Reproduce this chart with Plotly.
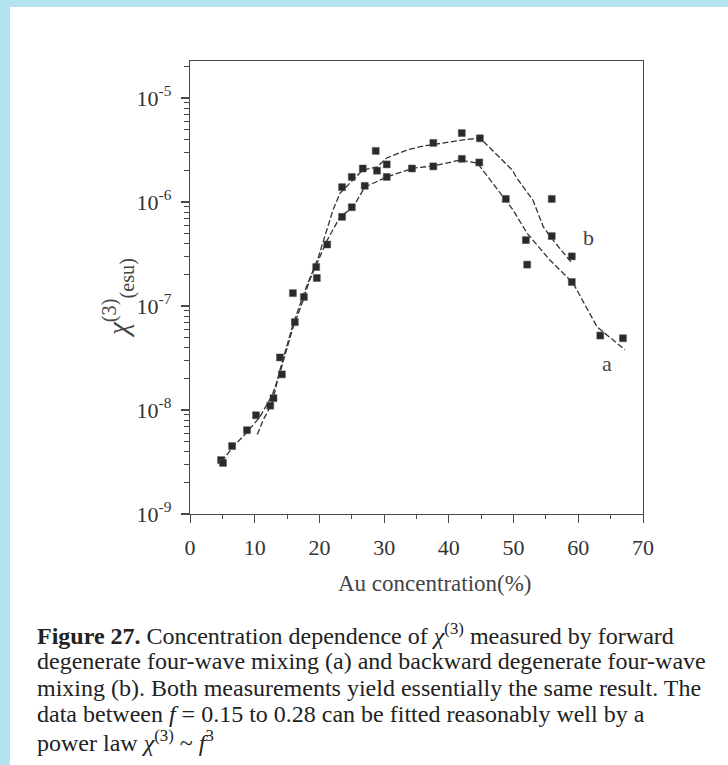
import plotly.graph_objects as go

# ---------------- data ----------------
# measured points, series a (forward DFWM) and b (backward DFWM)
a_x = [4.8, 6.5, 8.8, 10.2, 12.4, 14.2, 16.2, 17.6, 19.6, 21.2, 23.5, 25.0, 27.0,
       28.9, 30.4, 34.3, 37.6, 42.0, 44.7, 48.8, 51.9, 59.0, 63.4, 66.9]
a_y = [3.3e-9, 4.5e-9, 6.4e-9, 8.9e-9, 1.1e-8, 2.2e-8, 7.0e-8, 1.22e-7, 1.86e-7,
       3.9e-7, 7.2e-7, 8.9e-7, 1.43e-6, 2.0e-6, 1.74e-6, 2.1e-6, 2.2e-6, 2.6e-6,
       2.4e-6, 1.07e-6, 4.3e-7, 1.7e-7, 5.2e-8, 4.9e-8]

b_x = [5.1, 12.9, 13.9, 15.9, 19.5, 23.5, 25.0, 26.7, 28.7, 30.4, 37.6, 42.0,
       44.8, 52.1, 55.9, 55.9, 59.0]
b_y = [3.1e-9, 1.3e-8, 3.2e-8, 1.33e-7, 2.37e-7, 1.39e-6, 1.74e-6, 2.1e-6,
       3.1e-6, 2.3e-6, 3.7e-6, 4.6e-6, 4.1e-6, 2.5e-7, 4.7e-7, 1.07e-6, 3.0e-7]

# guide curves drawn through the data
curve_a_x = [4.9, 6.6, 8.8, 10.8, 12.7, 13.9, 15.8, 17.5, 18.5, 21.2, 23.2, 25.2,
             27.0, 30.4, 34.5, 37.6, 41.7, 44.4, 46.4, 49.9, 52.1, 55.6, 59.2,
             62.9, 67.2]
curve_a_y = [3.16e-9, 4.4e-9, 6.1e-9, 8.6e-9, 1.39e-8, 2.27e-8, 5.9e-8, 1.14e-7,
             1.78e-7, 4.3e-7, 7.2e-7, 8.9e-7, 1.39e-6, 1.74e-6, 2.12e-6, 2.22e-6,
             2.53e-6, 2.37e-6, 1.63e-6, 8.4e-7, 5.0e-7, 2.77e-7, 1.66e-7, 6.3e-8,
             3.8e-8]

curve_b_x = [10.4, 11.3, 12.7, 13.9, 15.9, 17.8, 19.8, 22.1, 23.2, 25.2, 26.7,
             28.9, 30.4, 33.5, 36.0, 39.1, 42.0, 44.8, 49.8, 50.5, 53.0, 54.6,
             56.1, 59.0]
curve_b_y = [5.8e-9, 8.0e-9, 1.17e-8, 2.43e-8, 6.6e-8, 1.43e-7, 2.9e-7, 8.4e-7,
             1.22e-6, 1.63e-6, 2.03e-6, 2.17e-6, 2.65e-6, 3.16e-6, 3.45e-6,
             3.69e-6, 3.94e-6, 4.12e-6, 2.03e-6, 1.70e-6, 1.04e-6, 5.75e-7,
             4.3e-7, 2.59e-7]

x_ticks = [0, 10, 20, 30, 40, 50, 60, 70]
y_decades = [-9, -8, -7, -6, -5]
y_tick_text = ["10<sup>-9</sup>", "10<sup>-8</sup>", "10<sup>-7</sup>",
               "10<sup>-6</sup>", "10<sup>-5</sup>"]

caption_lines = [
    "<b>Figure 27.</b> Concentration dependence of <i>χ</i><sup>(3)</sup> measured by forward",
    "degenerate four-wave mixing (a) and backward degenerate four-wave",
    "mixing (b). Both measurements yield essentially the same result. The",
    "data between <i>f</i> = 0.15 to 0.28 can be fitted reasonably well by a",
    "power law <i>χ</i><sup>(3)</sup> ~ <i>f</i><sup>3</sup>",
]

# ---------------- layout geometry (pixels) ----------------
W, H = 728, 765
L, R, T, B = 190, 643, 61, 514
PW, PH = R - L, B - T
DECADE = 104.0
Y_TOP = -9 + PH / DECADE


def px(xp):
    return (xp - L) / PW


def py(yp):
    return (B - yp) / PH


SERIF = "Liberation Serif, Times New Roman, serif"
INK = "#2a2a2a"
AXC = "#4a4a4a"

fig = go.Figure()

line_style = dict(color="#333333", width=1.3, dash="6px,2.5px")
fig.add_trace(go.Scatter(x=curve_a_x, y=curve_a_y, mode="lines",
                         line=line_style, hoverinfo="skip", showlegend=False))
fig.add_trace(go.Scatter(x=curve_b_x, y=curve_b_y, mode="lines",
                         line=line_style, hoverinfo="skip", showlegend=False))
marker_style = dict(symbol="square", size=7, color=INK,
                    line=dict(color="#555555", width=0.5))
fig.add_trace(go.Scatter(x=a_x, y=a_y, mode="markers", marker=marker_style,
                         name="a", showlegend=False))
fig.add_trace(go.Scatter(x=b_x, y=b_y, mode="markers", marker=marker_style,
                         name="b", showlegend=False))

minor_y = [m * 10.0 ** e for e in y_decades for m in range(2, 10)]

fig.update_xaxes(
    range=[0, 70], tickmode="array", tickvals=x_ticks,
    ticks="outside", ticklen=8, tickwidth=1.2, tickcolor=AXC,
    minor=dict(dtick=5, ticks="outside", ticklen=4, tickwidth=1, tickcolor=AXC,
               showgrid=False),
    showline=True, linecolor=AXC, linewidth=1.3, mirror=True,
    showgrid=False, zeroline=False, ticklabelstandoff=5,
    tickfont=dict(family=SERIF, size=22, color="#333333"),
)
fig.update_yaxes(
    type="log", range=[-9, Y_TOP], tickmode="array",
    tickvals=[10.0 ** e for e in y_decades], ticktext=y_tick_text,
    ticks="outside", ticklen=8, tickwidth=1.6, tickcolor=AXC,
    minor=dict(tickvals=minor_y, ticks="outside", ticklen=5, tickwidth=1,
               tickcolor=AXC, showgrid=False),
    showline=True, linecolor=AXC, linewidth=1.3, mirror=True,
    showgrid=False, zeroline=False, ticklabelstandoff=5,
    tickfont=dict(family=SERIF, size=22, color="#333333"),
)

ann = []
# curve labels
ann.append(dict(x=61.6, y=-6.34, xref="x", yref="y", text="b", showarrow=False,
                xanchor="center", yanchor="middle",
                font=dict(family=SERIF, size=22, color="#444444")))
ann.append(dict(x=64.4, y=-7.55, xref="x", yref="y", text="a", showarrow=False,
                xanchor="center", yanchor="middle",
                font=dict(family=SERIF, size=22, color="#444444")))
# axis titles
ann.append(dict(x=px(435), y=py(583), xref="paper", yref="paper",
                text="Au concentration(%)", showarrow=False,
                xanchor="center", yanchor="middle",
                font=dict(family=SERIF, size=23, color="#444444")))
ann.append(dict(x=px(118), y=py(298), xref="paper", yref="paper",
                text="<i>χ</i><sup>(3)</sup><sub>(esu)</sub>", textangle=-90,
                xanchor="center", yanchor="middle",
                showarrow=False, font=dict(family=SERIF, size=29, color="#444444")))
# caption
for i, t in enumerate(caption_lines):
    ann.append(dict(x=px(35), y=py(634 + 26.75 * i), xref="paper", yref="paper",
                    text=t, showarrow=False, xanchor="left", yanchor="middle",
                    font=dict(family=SERIF, size=24, color="#222222")))

shapes = [
    dict(type="rect", xref="paper", yref="paper", x0=px(0), x1=px(10),
         y0=py(H), y1=py(0), fillcolor="#b2e3ef", line=dict(width=0),
         layer="below"),
    dict(type="rect", xref="paper", yref="paper", x0=px(0), x1=px(W),
         y0=py(7), y1=py(0), fillcolor="#b2e3ef", line=dict(width=0),
         layer="below"),
]

fig.update_layout(
    width=W, height=H,
    margin=dict(l=L, r=W - R, t=T, b=H - B, pad=0),
    paper_bgcolor="white", plot_bgcolor="white",
    annotations=ann, shapes=shapes, showlegend=False,
)

# place the figure at the page's top-left corner (no default body margin)
fig.write_html("out.html", config={"displayModeBar": False},
               post_script="document.body.style.margin='0px';")
